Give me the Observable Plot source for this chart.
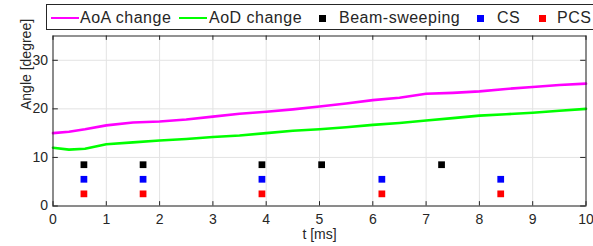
<!DOCTYPE html>
<html>
<head>
<meta charset="utf-8">
<script src="https://cdn.jsdelivr.net/npm/d3@7"></script>
<script src="https://cdn.jsdelivr.net/npm/@observablehq/plot@0.6"></script>
<style>
  html, body { margin: 0; padding: 0; background: #fff; overflow: hidden; }
  #wrap { position: relative; width: 593px; height: 246px; font-family: "Liberation Sans", Arial, sans-serif; color: #262626; }
  #chart { position: absolute; left: 0; top: 0; }
  #legend { position: absolute; left: 46px; top: 4px; width: 600px; height: 26px; border: 1px solid #262626; background: #fff; box-sizing: border-box; }
  .lt { position: absolute; top: 3px; font-size: 16px; letter-spacing: 0.5px; line-height: 19px; white-space: nowrap; }
  .ll { position: absolute; top: 12px; height: 2px; width: 28px; }
  .ls { position: absolute; top: 10px; width: 7px; height: 7px; }
</style>
</head>
<body>
<div id="wrap">
  <div id="chart"></div>
  <div id="legend"></div>
</div>
<script>
// Time samples (ms)
const t = [0, 0.3, 0.6, 1.0, 1.5, 2.0, 2.5, 3.0, 3.5, 4.0, 4.5, 5.0, 5.5, 6.0, 6.5, 7.0, 7.5, 8.0, 8.5, 9.0, 9.5, 10];
const aoa = [15.0, 15.3, 15.8, 16.6, 17.2, 17.4, 17.8, 18.4, 19.0, 19.4, 19.9, 20.5, 21.1, 21.8, 22.3, 23.1, 23.3, 23.6, 24.1, 24.5, 24.9, 25.2];
const aod = [12.0, 11.6, 11.8, 12.7, 13.1, 13.5, 13.8, 14.2, 14.5, 15.0, 15.5, 15.8, 16.2, 16.7, 17.1, 17.6, 18.1, 18.6, 18.9, 19.2, 19.6, 20.0];

// Marker series
const beamT = [0.58, 1.69, 3.92, 5.04, 7.29];
const beamY = 8.5;
const csT = [0.58, 1.69, 3.92, 6.17, 8.4];
const csY = 5.5;
const pcsT = [0.58, 1.69, 3.92, 6.17, 8.4];
const pcsY = 2.5;

const xTicks = [0, 1, 2, 3, 4, 5, 6, 7, 8, 9, 10];
const yTicks = [0, 10, 20, 30];

const legendItems = [
  {label: "AoA change", color: "#ff00ff", kind: "line", sx: 51, tx: 80},
  {label: "AoD change", color: "#00ff00", kind: "line", sx: 179, tx: 209},
  {label: "Beam-sweeping", color: "#000000", kind: "square", sx: 322, tx: 339},
  {label: "CS", color: "#0000ff", kind: "square", sx: 480, tx: 497},
  {label: "PCS", color: "#ff0000", kind: "square", sx: 542, tx: 557}
];

const aoaData = t.map((v, i) => ({t: v, y: aoa[i]}));
const aodData = t.map((v, i) => ({t: v, y: aod[i]}));
const beamData = beamT.map(v => ({t: v, y: beamY}));
const csData = csT.map(v => ({t: v, y: csY}));
const pcsData = pcsT.map(v => ({t: v, y: pcsY}));

const plot = Plot.plot({
  width: 593,
  height: 246,
  marginLeft: 52.5,
  marginRight: 7.5,
  marginTop: 35.5,
  marginBottom: 40.5,
  style: {fontFamily: "'Liberation Sans', Arial, sans-serif", fontSize: "14px", color: "#262626", background: "#fff"},
  x: {domain: [0, 10], ticks: xTicks},
  y: {domain: [0, 35], ticks: yTicks},
  marks: [
    Plot.gridX(xTicks, {stroke: "#e3e3e3", strokeOpacity: 1, strokeWidth: 1}),
    Plot.gridY(yTicks, {stroke: "#e3e3e3", strokeOpacity: 1, strokeWidth: 1}),
    Plot.axisX({ticks: xTicks, tickSize: 0, tickPadding: 8, fontSize: 14, label: null}),
    Plot.axisY({ticks: yTicks, tickSize: 0, tickPadding: 5, fontSize: 14, label: null}),
    Plot.ruleX(xTicks, {x: d => d, y1: 0, y2: 0.9, stroke: "#262626"}),
    Plot.ruleX(xTicks, {x: d => d, y1: 34.1, y2: 35, stroke: "#262626"}),
    Plot.ruleY(yTicks, {y: d => d, x1: 0, x2: 0.1, stroke: "#262626"}),
    Plot.ruleY(yTicks, {y: d => d, x1: 9.9, x2: 10, stroke: "#262626"}),
    Plot.line(aoaData, {x: "t", y: "y", stroke: "#ff00ff", strokeWidth: 2.6}),
    Plot.line(aodData, {x: "t", y: "y", stroke: "#00ff00", strokeWidth: 2.6}),
    Plot.dot(beamData, {x: "t", y: "y", symbol: "square", r: 3.8, fill: "#000000", stroke: "none"}),
    Plot.dot(csData, {x: "t", y: "y", symbol: "square", r: 3.8, fill: "#0000ff", stroke: "none"}),
    Plot.dot(pcsData, {x: "t", y: "y", symbol: "square", r: 3.8, fill: "#ff0000", stroke: "none"}),
    Plot.frame({stroke: "#262626", strokeWidth: 1}),
    Plot.text(["t [ms]"], {frameAnchor: "bottom", dy: 33, fontSize: 14, fill: "#262626"}),
    Plot.text(["Angle [degree]"], {frameAnchor: "left", dx: -26, dy: -11, rotate: -90, fontSize: 14, fill: "#262626"})
  ]
});
document.getElementById("chart").appendChild(plot);

const legend = document.getElementById("legend");
for (const it of legendItems) {
  const sw = document.createElement("div");
  if (it.kind === "line") {
    sw.className = "ll";
    sw.style.left = (it.sx - 47) + "px";
  } else {
    sw.className = "ls";
    sw.style.left = (it.sx - 47 - 3.5) + "px";
  }
  sw.style.background = it.color;
  legend.appendChild(sw);
  const tx = document.createElement("div");
  tx.className = "lt";
  tx.style.left = (it.tx - 47) + "px";
  tx.textContent = it.label;
  legend.appendChild(tx);
}
</script>
</body>
</html>
